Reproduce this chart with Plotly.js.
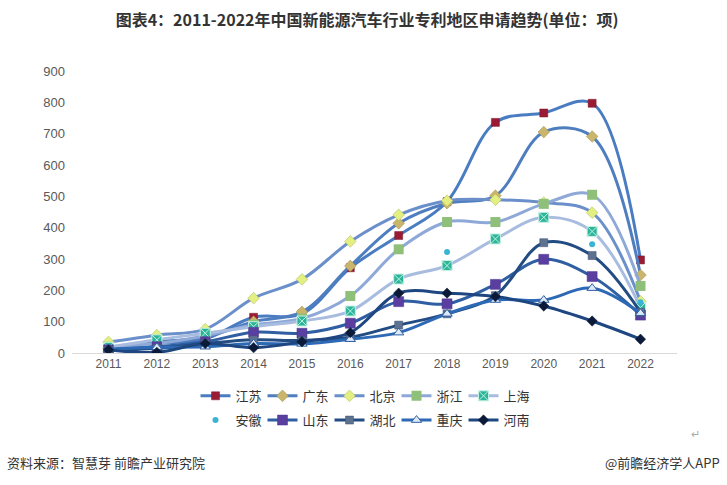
<!DOCTYPE html>
<html>
<head>
<meta charset="utf-8">
<script src="https://cdn.plot.ly/plotly-3.0.1.min.js"></script>
<style>html,body{margin:0;padding:0;background:#fff;}#chart{width:727px;height:485px;}</style>
</head>
<body>
<div id="chart"></div>
<script>
const years = ['2011','2012','2013','2014','2015','2016','2017','2018','2019','2020','2021','2022'];
const jiangsu  = [10, 30, 45, 114, 125, 272, 375, 483, 736, 766, 797, 297];
const guangdong= [15, 35, 50, 100, 131, 278, 414, 478, 502, 705, 691, 249];
const beijing  = [35, 57, 76, 175, 235, 356, 441, 486, 489, 480, 448, 165];
const zhejiang = [20, 30, 55, 90, 110, 182, 331, 418, 418, 476, 505, 214];
const shanghai = [18, 42, 63, 84, 102, 134, 236, 279, 364, 433, 388, 145];
const anhui    = [null, null, null, null, null, null, null, 322, null, null, 347, 162];
const shandong = [10, 20, 36, 66, 63, 95, 164, 157, 219, 299, 244, 121];
const hubei    = [8, 15, 30, 42, 40, 50, 89, 125, 183, 352, 311, 130];
const chongqing= [12, 18, 20, 30, 29, 44, 65, 125, 169, 169, 207, 127];
const henan    = [10, 2, 30, 17, 36, 65, 191, 191, 180, 150, 102, 44];
const names = ['江苏','广东','北京','浙江','上海','安徽','山东','湖北','重庆','河南'];
const yTicks = [0,100,200,300,400,500,600,700,800,900];

function line(name, y, lineColor, sym, mColor, mSize, mLine, legend) {
  return {
    type: 'scatter', mode: 'lines+markers', name: name, x: years, y: y,
    line: {color: lineColor, width: 3, shape: 'spline', smoothing: 1},
    marker: {symbol: sym, color: mColor, size: mSize, line: mLine},
    legend: legend
  };
}
const traces = [
  line(names[0], jiangsu,  '#4a7cc2', 'square',  '#9a1b33', 8, {color:'#7a1a2c', width:0.5}, 'legend'),
  line(names[1], guangdong,'#4e7ebf', 'diamond', '#c9b56c', 9, {color:'#9e8c4d', width:0.5}, 'legend'),
  line(names[2], beijing,  '#6a8fca', 'diamond', '#e4ef82', 9, {color:'#a8b45a', width:0.5}, 'legend'),
  line(names[3], zhejiang, '#8ea9d8', 'square',  '#8fc07a', 10, {color:'#8fc07a', width:0}, 'legend'),
  line(names[4], shanghai, '#a8bcdf', 'square-x','#2bb59a', 10, {color:'#c6f0e2', width:1}, 'legend'),
  {type:'scatter', mode:'markers', name: names[5], x: years, y: anhui,
   marker:{symbol:'circle', color:'#3ab4d4', size:6}, legend:'legend2'},
  line(names[6], shandong, '#2f5ea2', 'square',  '#5b3fa0', 10, {color:'#4a3290', width:0.5}, 'legend2'),
  line(names[7], hubei,    '#234c83', 'square',  '#5d7191', 8, {color:'#3e5070', width:0.5}, 'legend2'),
  line(names[8], chongqing,'#2d69b4', 'triangle-up', '#dde9f7', 9, {color:'#2f5fa5', width:1}, 'legend2'),
  line(names[9], henan,    '#1e4781', 'diamond', '#0b1a38', 8, {color:'#0b1a38', width:0.5}, 'legend2')
];
const legendFont = {family:'"Noto Sans CJK SC", "Noto Sans", sans-serif', size:13, color:'#333'};
const layout = {
  width: 727, height: 485,
  margin: {l: 72, r: 50, t: 71, b: 132},
  paper_bgcolor: '#fff', plot_bgcolor: '#fff',
  font: {family: '"Noto Sans CJK SC", "Liberation Sans", sans-serif', color: '#595959'},
  title: {text: '<b>图表4：2011-2022年中国新能源汽车行业专利地区申请趋势(单位：项)</b>',
          font: {size: 16, color: '#333', family: '"Noto Sans CJK SC", sans-serif'},
          x: 0.505, xanchor: 'center', y: 0.958, yanchor: 'middle'},
  xaxis: {type:'category', showgrid:false, zeroline:false, showline:true, linecolor:'#d9d9d9', linewidth:1,
          ticks:'', tickfont:{size:12, color:'#595959', family:'"Liberation Sans", Arial, sans-serif'}},
  yaxis: {range:[0,900], tickvals: yTicks, showgrid:false, zeroline:false, showline:false, ticks:'',
          ticklabelstandoff: 6,
          tickfont:{size:13, color:'#595959', family:'"Liberation Sans", Arial, sans-serif'}},
  showlegend: true,
  legend: {orientation:'h', x:0.481, xanchor:'center', y:-0.152, yanchor:'middle', font:legendFont,
           bgcolor:'rgba(0,0,0,0)', entrywidth: 22, traceorder:'normal'},
  legend2: {orientation:'h', x:0.481, xanchor:'center', y:-0.238, yanchor:'middle', font:legendFont,
           bgcolor:'rgba(0,0,0,0)', entrywidth: 22, traceorder:'normal'},
  annotations: [
    {xref:'paper', yref:'paper', x:-0.11, y:-0.39, xanchor:'left', yanchor:'middle', showarrow:false,
     text:'资料来源：智慧芽 前瞻产业研究院', font:{size:13, color:'#333', family:'"Noto Sans CJK SC", sans-serif'}},
    {xref:'paper', yref:'paper', x:1.075, y:-0.39, xanchor:'right', yanchor:'middle', showarrow:false,
     text:'@前瞻经济学人APP', font:{size:13, color:'#333', family:'"Noto Sans CJK SC", sans-serif'}},
    {xref:'paper', yref:'paper', x:1.03, y:-0.285, xanchor:'center', yanchor:'middle', showarrow:false,
     text:'↵', font:{size:11, color:'#aaa'}}
  ]
};
Plotly.newPlot('chart', traces, layout, {displayModeBar:false, staticPlot:true});
</script>
</body>
</html>
